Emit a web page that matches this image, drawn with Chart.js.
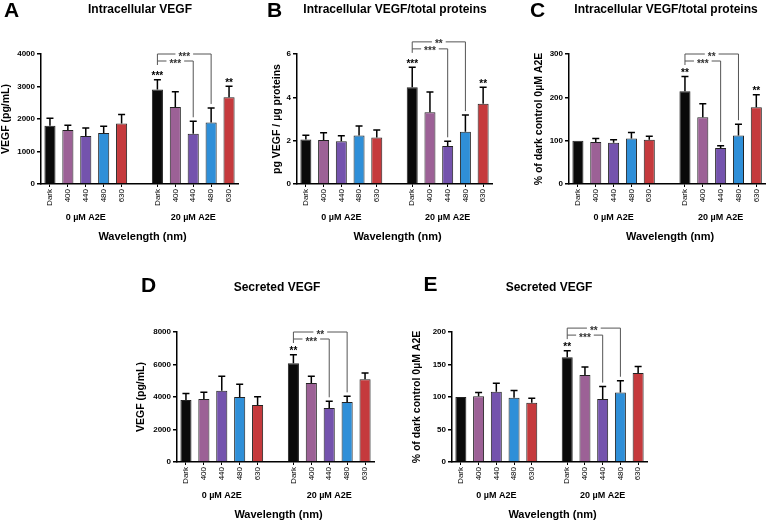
<!DOCTYPE html>
<html>
<head>
<meta charset="utf-8">
<script src="https://cdn.jsdelivr.net/npm/chart.js@4"></script>
<style>
  body { margin: 0; background: #fff; }
  #wrap { position: relative; width: 768px; height: 521px; overflow: hidden; }
  canvas { position: absolute; }
</style>
</head>
<body>
<div id="wrap"></div>
<script>
// categories
const wavelengths = ['Dark', '400', '440', '480', '630'];
const groups = ['0 µM A2E', '20 µM A2E'];
const barColors = ['#0a0a0a', '#9c6196', '#7453ad', '#2f8fd8', '#c53a3d'];

// A - intracellular VEGF (pg/mL)
const meanA = [1790, 1665, 1480, 1570, 1860, 2905, 2370, 1550, 1890, 2670];
const errA  = [230, 140, 245, 205, 275, 305, 470, 380, 450, 335];
const starsA = ['', '', '', '', '', '***', '', '', '', '**'];
// B - pg VEGF / ug proteins
const meanB = [2.05, 2.03, 1.97, 2.24, 2.15, 4.46, 3.31, 1.75, 2.41, 3.70];
const errB  = [0.20, 0.33, 0.26, 0.44, 0.34, 0.93, 0.94, 0.22, 0.77, 0.76];
const starsB = ['', '', '', '', '', '***', '', '', '', '**'];
// C - % of dark control
const meanC = [100, 97, 95, 105, 102, 214, 154, 83, 112, 177];
const errC  = [0, 8, 7, 14, 8, 34, 31, 5, 26, 29];
const starsC = ['', '', '', '', '', '**', '', '', '', '**'];
// D - secreted VEGF (pg/mL)
const meanD = [3820, 3880, 4390, 4000, 3510, 6070, 4860, 3320, 3690, 5100];
const errD  = [400, 410, 880, 780, 510, 530, 410, 415, 350, 380];
const starsD = ['', '', '', '', '', '**', '', '', '', ''];
// E - secreted, % of dark control
const meanE = [100, 101, 108, 99, 91, 161, 134, 97, 107, 137];
const errE  = [0, 6, 13, 11, 7, 10, 12, 19, 18, 10];
const starsE = ['', '', '', '', '', '**', '', '', '', ''];

// comparisons inside the 20 uM group (bar index from -> to)
const bracketsA = [{from: 5, to: 7, label: '***'}, {from: 5, to: 8, label: '***'}];
const bracketsB = [{from: 5, to: 7, label: '***'}, {from: 5, to: 8, label: '**'}];
const bracketsC = [{from: 5, to: 7, label: '***'}, {from: 5, to: 8, label: '**'}];
const bracketsD = [{from: 5, to: 7, label: '***'}, {from: 5, to: 8, label: '**'}];
const bracketsE = [{from: 5, to: 7, label: '***'}, {from: 5, to: 8, label: '**'}];

const FONT = '"Liberation Sans", Arial, Helvetica, sans-serif';
Chart.defaults.font.family = FONT;
Chart.defaults.color = '#000';

const labels = [...wavelengths, '', ...wavelengths];
const toSlots = arr => [...arr.slice(0, 5), null, ...arr.slice(5)];
const slot = i => (i < 5 ? i : i + 1);

const panels = [
  { letter: 'A', title: 'Intracellular VEGF', yLabel: 'VEGF (pg/mL)',
    mean: meanA, err: errA, stars: starsA, brackets: bracketsA, max: 4000, step: 1000, bTop: 4000,
    box: {left: 0, top: 0, w: 256, h: 260}, padL: 0, yW: 41, padT: 54, padR: 18, xH: 76,
    titleAt: [140, 10], letterAt: [11.5, 11] },
  { letter: 'B', title: 'Intracellular VEGF/total proteins', yLabel: 'pg VEGF / µg proteins',
    mean: meanB, err: errB, stars: starsB, brackets: bracketsB, max: 6, step: 2, bTop: 6.56,
    box: {left: 256, top: 0, w: 256, h: 260}, padL: 15, yW: 26, padT: 54, padR: 20, xH: 76,
    titleAt: [139, 10], letterAt: [18.5, 11] },
  { letter: 'C', title: 'Intracellular VEGF/total proteins', yLabel: '% of dark control 0µM A2E',
    mean: meanC, err: errC, stars: starsC, brackets: bracketsC, max: 300, step: 100, bTop: 300,
    box: {left: 512, top: 0, w: 256, h: 260}, padL: 21, yW: 36, padT: 54, padR: 2, xH: 76,
    titleAt: [154, 10], letterAt: [25.5, 11] },
  { letter: 'D', title: 'Secreted VEGF', yLabel: 'VEGF (pg/mL)',
    mean: meanD, err: errD, stars: starsD, brackets: bracketsD, max: 8000, step: 2000, bTop: 8000,
    box: {left: 110, top: 260, w: 280, h: 261}, padL: 25, yW: 42, padT: 72, padR: 16, xH: 59,
    titleAt: [167, 28], letterAt: [38.5, 26] },
  { letter: 'E', title: 'Secreted VEGF', yLabel: '% of dark control 0µM A2E',
    mean: meanE, err: errE, stars: starsE, brackets: bracketsE, max: 200, step: 50, bTop: 206,
    box: {left: 380, top: 260, w: 280, h: 261}, padL: 31, yW: 41, padT: 72, padR: 13, xH: 59,
    titleAt: [169, 28], letterAt: [50.5, 25] }
];

// error bars, stars, brackets, titles and group labels
function makeAnnot(p) {
  return {
    id: 'annot' + p.letter,
    afterDatasetsDraw(chart) {
      const ctx = chart.ctx;
      const y = chart.scales.y;
      const meta = chart.getDatasetMeta(0);
      const xAt = i => meta.data[slot(i)].x;
      const topAt = i => y.getPixelForValue(p.mean[i] + p.err[i]);
      ctx.save();
      // error bars (upper only)
      ctx.strokeStyle = '#000';
      ctx.lineWidth = 1.5;
      p.mean.forEach((m, i) => {
        if (!p.err[i]) return;
        const x = xAt(i), yb = y.getPixelForValue(m), yt = topAt(i);
        ctx.beginPath();
        ctx.moveTo(x, yb); ctx.lineTo(x, yt);
        ctx.moveTo(x - 3.5, yt); ctx.lineTo(x + 3.5, yt);
        ctx.stroke();
      });
      // stars vs control
      ctx.fillStyle = '#000';
      ctx.font = 'bold 10px ' + FONT;
      ctx.textAlign = 'center';
      ctx.textBaseline = 'alphabetic';
      p.stars.forEach((s, i) => {
        if (s) ctx.fillText(s, xAt(i), topAt(i) - 0.5);
      });
      // brackets
      const upper = y.getPixelForValue(p.bTop);
      const n = p.brackets.length;
      ctx.strokeStyle = '#555';
      ctx.lineWidth = 1;
      p.brackets.forEach((b, k) => {
        const L = upper + 7 * (n - 1 - k);
        const x1 = xAt(b.from), x2 = xAt(b.to);
        const yEnd = topAt(b.to) - 4;
        const mid = (x1 + x2) / 2;
        const gap = ctx.measureText(b.label).width / 2 + 3;
        ctx.beginPath();
        ctx.moveTo(x1, L); ctx.lineTo(mid - gap, L);
        ctx.moveTo(mid + gap, L); ctx.lineTo(x2, L); ctx.lineTo(x2, yEnd);
        ctx.stroke();
        ctx.fillStyle = '#333';
        ctx.fillText(b.label, mid, L + 5.5);
      });
      if (n) {
        const x1 = xAt(p.brackets[0].from);
        ctx.beginPath();
        ctx.moveTo(x1, upper); ctx.lineTo(x1, upper + 7 * (n - 1) + 4);
        ctx.stroke();
      }
      ctx.restore();
    },
    afterDraw(chart) {
      const ctx = chart.ctx;
      const area = chart.chartArea;
      const meta = chart.getDatasetMeta(0);
      ctx.save();
      ctx.fillStyle = '#000';
      ctx.textAlign = 'center';
      ctx.textBaseline = 'middle';
      ctx.font = 'bold 21px ' + FONT;
      ctx.fillText(p.letter, p.letterAt[0], p.letterAt[1]);
      ctx.font = 'bold 12px ' + FONT;
      ctx.fillText(p.title, p.titleAt[0], p.titleAt[1]);
      ctx.font = 'bold 9px ' + FONT;
      groups.forEach((g, gi) => {
        const a = meta.data[slot(gi * 5)].x, b = meta.data[slot(gi * 5 + 4)].x;
        ctx.fillText(g, (a + b) / 2, area.bottom + 34);
      });
      ctx.font = 'bold 11px ' + FONT;
      ctx.fillText('Wavelength (nm)', (area.left + area.right) / 2 + 3, area.bottom + 53);
      ctx.restore();
    }
  };
}

const wrap = document.getElementById('wrap');
panels.forEach(p => {
  const cv = document.createElement('canvas');
  cv.width = p.box.w; cv.height = p.box.h;
  cv.style.left = p.box.left + 'px';
  cv.style.top = p.box.top + 'px';
  cv.style.width = p.box.w + 'px';
  cv.style.height = p.box.h + 'px';
  wrap.appendChild(cv);

  new Chart(cv, {
    type: 'bar',
    data: {
      labels: labels,
      datasets: [{
        data: toSlots(p.mean),
        backgroundColor: toSlots([...barColors, ...barColors]),
        borderColor: '#222',
        borderWidth: 1,
        categoryPercentage: 1,
        barPercentage: 0.62
      }]
    },
    options: {
      responsive: false,
      animation: false,
      devicePixelRatio: 1,
      layout: { padding: { left: p.padL, top: p.padT, right: p.padR, bottom: 0 } },
      plugins: { legend: { display: false }, tooltip: { enabled: false } },
      scales: {
        x: {
          grid: {
            display: true, drawOnChartArea: false, offset: false, tickLength: 3, lineWidth: 1,
            tickColor: c => (labels[c.index] === '' ? 'rgba(0,0,0,0)' : '#000')
          },
          border: { display: true, color: '#000', width: 1.5 },
          ticks: { autoSkip: false, minRotation: 90, maxRotation: 90, padding: 2,
                   font: { size: 8 }, color: '#000' },
          afterFit: s => { s.height = p.xH; }
        },
        y: {
          min: 0, max: p.max,
          grid: { display: true, drawOnChartArea: false, tickLength: 4, lineWidth: 1.5, color: '#000' },
          border: { display: true, color: '#000', width: 1.5 },
          ticks: { stepSize: p.step, padding: 2, font: { size: 8, weight: 'bold' }, color: '#000',
                   callback: v => String(v) },
          title: { display: true, text: p.yLabel, padding: 0, color: '#000',
                   font: { size: 10.5, weight: 'bold' } },
          afterFit: s => { s.width = p.yW; }
        }
      }
    },
    plugins: [makeAnnot(p)]
  });
});
</script>
</body>
</html>
